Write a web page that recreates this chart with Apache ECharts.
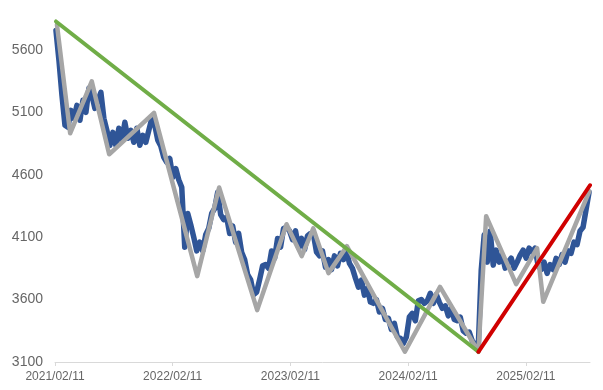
<!DOCTYPE html>
<html>
<head>
<meta charset="utf-8">
<script src="https://cdn.jsdelivr.net/npm/echarts@6/dist/echarts.min.js"></script>
<style>html,body{margin:0;padding:0;background:#fff;}#c{width:603px;height:390px;}</style>
</head>
<body>
<div id="c"></div>
<script>
// X axis: days since 2021/02/11
const xTickDays = [0, 365, 730, 1095, 1460];
const xTickLabels = ['2021/02/11', '2022/02/11', '2023/02/11', '2024/02/11', '2025/02/11'];
const yTicks = [3100, 3600, 4100, 4600, 5100, 5600];

// Blue price series (evenly spaced samples from day blueStartDay to blueEndDay)
const blueStartDay = 3;
const blueEndDay = 1656;
const blueValues = [
5756,5516,5236,4996,4980,5116,5052,5156,5036,5196,5100,5292,5236,5132,5196,5260,5052,4956,4836,4940,
4836,4972,4876,5020,4892,4956,4860,4972,4836,4916,4860,4956,5052,4996,4876,4830,4740,4700,4730,4580,
4650,4560,4500,4020,4290,4200,4100,3990,4060,3990,4120,4170,4290,4330,4460,4280,4240,4260,4130,4190,
4060,4130,3980,3920,3800,3760,3640,3660,3760,3870,3880,3850,3990,3930,4090,4020,4170,4180,4150,4080,
4150,4020,4090,4000,4110,4130,4120,3980,3950,3990,3860,3920,3840,3950,3870,3970,3920,3990,3890,3850,
3772,3700,3756,3636,3690,3580,3570,3600,3500,3530,3440,3450,3360,3410,3300,3290,3250,3300,3460,3490,
3430,3590,3600,3570,3590,3650,3570,3640,3580,3530,3550,3470,3530,3440,3430,3460,3350,3330,3340,3270,
3236,3212,3836,4120,3900,4150,3876,3996,3900,3956,3852,3900,3932,3852,3900,3956,3996,3932,4012,3980,
4012,3870,3840,3900,3810,3880,3840,3930,3880,3960,3900,3990,3970,4060,4040,4150,4180,4320,4460
];

// Grey zigzag (turning points)
const grayDays   = [6, 47, 114, 168, 307, 441, 509, 627, 718, 765, 801, 848, 905, 1085, 1194, 1313, 1337, 1430, 1495, 1514, 1657];
const grayValues = [5804, 4932, 5348, 4764, 5096, 3788, 4498, 3516, 4204, 3948, 4170, 3812, 4028, 3182, 3702, 3182, 4268, 3724, 4012, 3582, 4468];

// Trend lines
const greenDays = [3, 1313];
const greenValues = [5828, 3182];
const redDays = [1313, 1659];
const redValues = [3182, 4516];

const n = blueValues.length;
const blueData = blueValues.map((v, i) => [blueStartDay + i * (blueEndDay - blueStartDay) / (n - 1), v]);
const zip = (a, b) => a.map((d, i) => [d, b[i]]);

const chart = echarts.init(document.getElementById('c'), null, {renderer: 'canvas'});
chart.setOption({
  animation: false,
  backgroundColor: '#ffffff',
  grid: {left: 55, right: 13, top: 0, bottom: 28, containLabel: false},
  xAxis: {
    type: 'value', min: 0, max: 1659,
    axisLine: {show: true, lineStyle: {color: '#d9d9d9', width: 1}},
    axisTick: {show: true, customValues: xTickDays, length: 4, lineStyle: {color: '#d9d9d9'}},
    axisLabel: {
      customValues: xTickDays, margin: 9, color: '#666666',
      fontFamily: 'Liberation Sans, Arial, sans-serif', fontSize: 12,
      formatter: v => xTickLabels[xTickDays.indexOf(v)] || ''
    },
    splitLine: {show: false}
  },
  yAxis: {
    type: 'value', min: 3100, max: 6000,
    axisLine: {show: false}, axisTick: {show: false},
    axisLabel: {customValues: yTicks, margin: 12, color: '#666666', fontFamily: 'Liberation Sans, Arial, sans-serif', fontSize: 14,
      formatter: v => String(v)},
    splitLine: {show: false}
  },
  series: [
    {type: 'line', data: blueData, showSymbol: false, symbol: 'none',
     lineStyle: {color: '#2f5597', width: 5.5, cap: 'round', join: 'round'}, z: 2},
    {type: 'line', data: zip(grayDays, grayValues), showSymbol: false, symbol: 'none',
     lineStyle: {color: '#a6a6a6', width: 4.5, cap: 'round', join: 'round'}, z: 3},
    {type: 'line', data: zip(greenDays, greenValues), showSymbol: false, symbol: 'none',
     lineStyle: {color: '#70ad47', width: 4, cap: 'round'}, z: 4},
    {type: 'line', data: zip(redDays, redValues), showSymbol: false, symbol: 'none',
     lineStyle: {color: '#d00000', width: 4, cap: 'round'}, z: 5}
  ]
});
</script>
</body>
</html>
